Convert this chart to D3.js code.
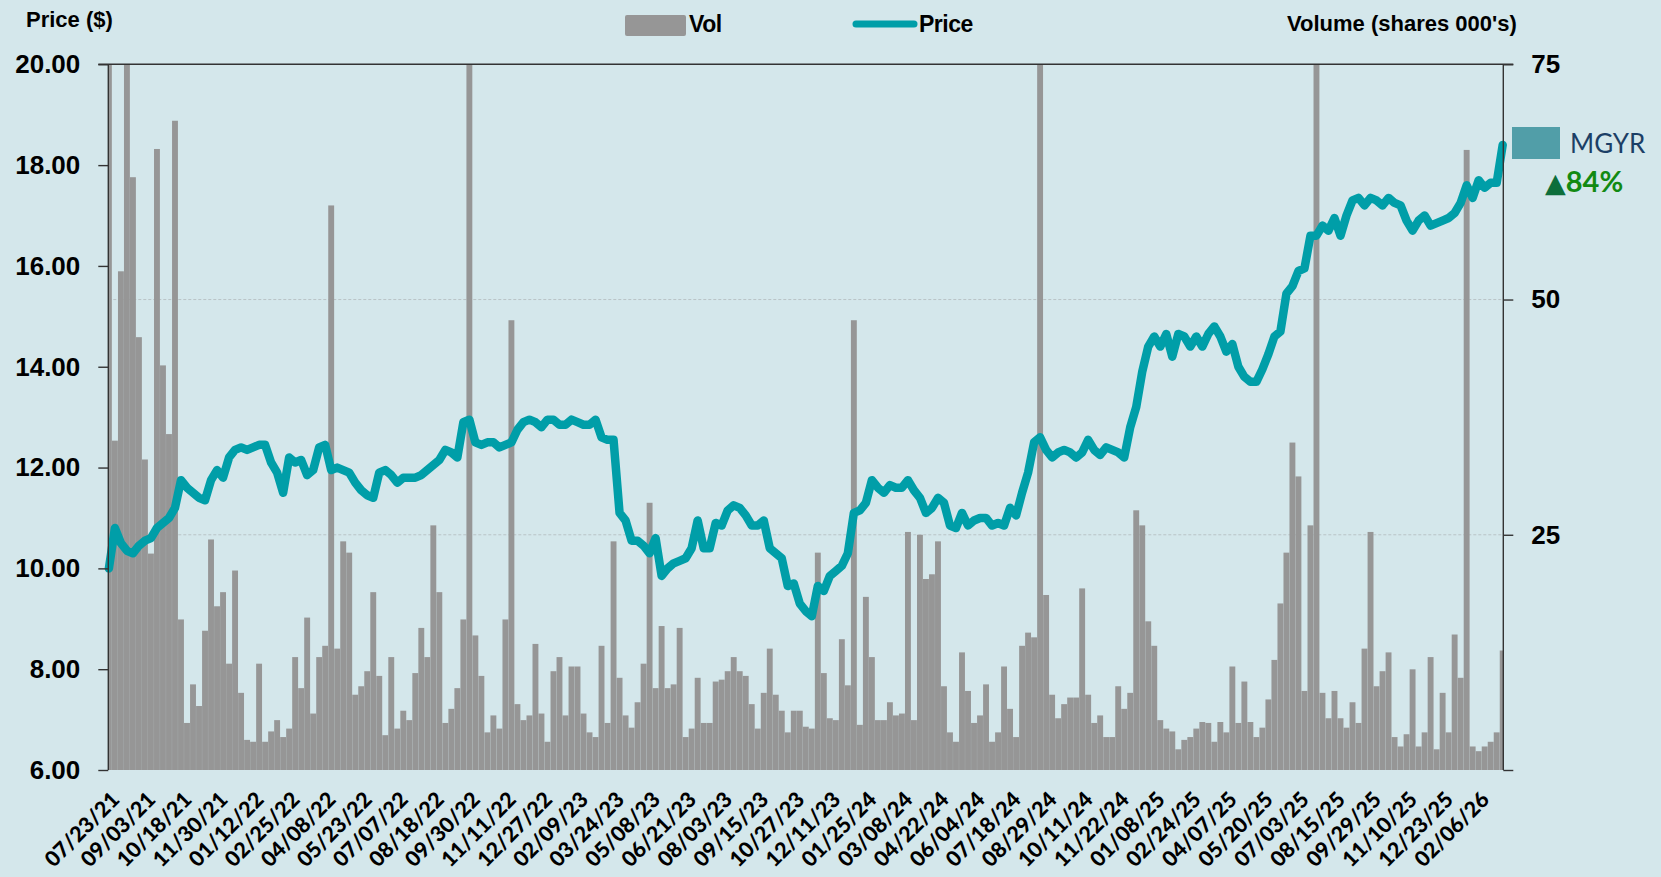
<!DOCTYPE html>
<html>
<head>
<meta charset="utf-8">
<script src="https://cdn.jsdelivr.net/npm/d3@7"></script>
<style>
  html, body { margin: 0; padding: 0; background: #d4e7eb; }
  svg { display: block; }
  .ax text { font-family: "Liberation Sans", Arial, sans-serif; font-weight: bold; font-size: 26px; fill: #000; }
  .ax path, .ax line { stroke: #333; stroke-width: 1.4; }
</style>
</head>
<body>
<svg id="chart" width="1661" height="877"></svg>
<script>
// ---------- data ----------
const dateLabels = ["07/23/21","09/03/21","10/18/21","11/30/21","01/12/22","02/25/22","04/08/22","05/23/22","07/07/22","08/18/22","09/30/22","11/11/22","12/27/22","02/09/23","03/24/23","05/08/23","06/21/23","08/03/23","09/15/23","10/27/23","12/11/23","01/25/24","03/08/24","04/22/24","06/04/24","07/18/24","08/29/24","10/11/24","11/22/24","01/08/25","02/24/25","04/07/25","05/20/25","07/03/25","08/15/25","09/29/25","11/10/25","12/23/25","02/06/26"];
const labelEveryDays = 30;     // trading days between date labels
const sampleEveryDays = 5;     // trading days between samples
const totalDays = 1161;

const price = [10.0,10.8,10.5,10.35,10.3,10.45,10.55,10.6,10.8,10.9,
11.0,11.2,11.75,11.6,11.5,11.4,11.35,11.75,11.95,11.8,
12.2,12.35,12.4,12.35,12.4,12.45,12.45,12.1,11.9,11.5,
12.2,12.1,12.15,11.85,11.95,12.4,12.45,11.95,12.0,11.95,
11.9,11.7,11.55,11.45,11.4,11.9,11.95,11.85,11.7,11.8,
11.8,11.8,11.85,11.95,12.05,12.15,12.35,12.3,12.2,12.9,
12.95,12.5,12.45,12.5,12.5,12.4,12.45,12.5,12.75,12.9,
12.95,12.9,12.8,12.95,12.95,12.85,12.85,12.95,12.9,12.85,
12.85,12.95,12.6,12.55,12.55,11.1,10.95,10.55,10.55,10.45,
10.3,10.6,9.85,10.0,10.1,10.15,10.2,10.4,10.95,10.4,
10.4,10.9,10.85,11.15,11.25,11.2,11.05,10.85,10.85,10.95,
10.4,10.3,10.2,9.65,9.7,9.3,9.15,9.05,9.65,9.55,
9.85,9.95,10.05,10.3,11.1,11.15,11.3,11.75,11.6,11.5,
11.65,11.6,11.6,11.75,11.55,11.4,11.1,11.2,11.4,11.3,
10.85,10.8,11.1,10.85,10.95,11.0,11.0,10.85,10.9,10.85,
11.2,11.05,11.5,11.9,12.5,12.6,12.35,12.2,12.3,12.35,
12.3,12.2,12.3,12.55,12.35,12.25,12.4,12.35,12.3,12.2,
12.8,13.2,13.9,14.4,14.6,14.4,14.65,14.2,14.65,14.6,
14.4,14.6,14.4,14.65,14.8,14.6,14.3,14.45,14.0,13.8,
13.7,13.7,13.95,14.25,14.6,14.7,15.45,15.6,15.9,15.95,
16.6,16.6,16.8,16.7,16.95,16.6,17.0,17.3,17.35,17.2,
17.35,17.3,17.2,17.35,17.25,17.2,16.9,16.7,16.9,17.0,
16.8,16.85,16.9,16.95,17.05,17.25,17.6,17.35,17.7,17.55,
17.65,17.65,18.4];

const volume = [80,35,53,80,63,46,33,23,66,43,
35.7,69,16,5,9.1,6.8,14.8,24.5,17.4,18.9,
11.3,21.2,8.2,3.2,3,11.3,3,4.1,5.3,3.5,
4.4,12,8.7,16.2,6,12,13.2,60,12.9,24.3,
23.1,8,8.9,10.5,18.9,10,3.7,12,4.4,6.3,
5.3,10.3,15.1,12,26,18.9,5,6.5,8.7,16,
80,14.3,10,4,5.8,4.4,16,47.8,7,5.3,
5.8,13.4,6,3,10.5,12,5.8,11,11,6,
4,3.5,13.2,5,24.3,9.8,5.8,4.5,7.2,11.3,
28.4,8.7,15.3,8.7,9.1,15.1,3.5,4.4,9.8,5,
5,9.4,9.6,10.5,12,10.5,10,7,4.4,8.2,
12.9,8,6.3,4,6.3,6.3,4.6,4.4,23.1,10.3,
5.5,5.3,13.9,9,47.8,4.8,18.4,12,5.3,5.3,
7.2,5.8,6,25.3,5.3,25,20.3,20.8,24.3,8.9,
4,3,12.5,8.4,5,5.8,9.1,3,4,11,
6.5,3.5,13.2,14.6,14.1,80,18.6,8,5.5,7,
7.7,7.7,19.3,8,5,5.8,3.5,3.5,8.9,6.5,
8.2,27.6,26,15.8,13.2,5.3,4.4,4.1,2.2,3.2,
3.5,4.4,5.1,5,3,5.1,4,11,5,9.4,
5.1,3.5,4.5,7.5,11.7,17.7,23.1,34.8,31.2,8.4,
26,80,8.2,5.5,8.4,5.5,4.5,7.2,5,12.9,
25.3,8.9,10.5,12.5,3.5,2.5,3.8,10.7,2.5,4,
12,2.2,8.2,4,14.4,9.8,65.9,2.5,2,2.5,
3,4,12.7];

const priceTicks = [6,8,10,12,14,16,18,20];
const volTicks = [0,25,50,75];
const ticker = "MGYR";
const changeText = "84%";

// ---------- layout ----------
const L = 108.3, R = 1503.3, T = 64.3, B = 770;
const svg = d3.select("#chart");

const x = d3.scaleLinear().domain([-0.5, totalDays - 0.5]).range([L, R]);
const yP = d3.scaleLinear().domain([6, 20]).range([B, T]);
const yV = d3.scaleLinear().domain([0, 75]).range([B, T]);

svg.append("rect").attr("width", 1661).attr("height", 877).attr("fill", "#d4e7eb");

svg.append("defs").append("clipPath").attr("id", "plot")
  .append("rect").attr("x", L).attr("y", T).attr("width", R - L).attr("height", B - T + 2);

// gridlines at volume 25, 50
svg.append("g").selectAll("line").data([25, 50]).join("line")
  .attr("x1", L).attr("x2", R).attr("y1", d => yV(d)).attr("y2", d => yV(d))
  .attr("stroke", "#b9c3c6").attr("stroke-width", 1).attr("stroke-dasharray", "3,2");

// volume bars
const bw = (x(sampleEveryDays) - x(0)) * 0.98;
svg.append("g").attr("clip-path", "url(#plot)").selectAll("rect").data(volume).join("rect")
  .attr("x", (d, i) => x(i * sampleEveryDays) - bw / 2)
  .attr("y", d => yV(d))
  .attr("width", bw)
  .attr("height", d => B - yV(d))
  .attr("fill", "#969696");

// price line
const line = d3.line().x((d, i) => x(i * sampleEveryDays)).y(d => yP(d));
svg.append("path").datum(price).attr("d", line)
  .attr("fill", "none").attr("stroke", "#009ea8").attr("stroke-width", 8.5)
  .attr("stroke-linejoin", "round").attr("stroke-linecap", "round");

// axes
const axL = svg.append("g").attr("class", "ax").attr("transform", `translate(${L},0)`)
  .call(d3.axisLeft(yP).tickValues(priceTicks).tickFormat(d3.format(".2f")).tickSize(10).tickPadding(18));
axL.select(".domain").attr("d", `M0,${T}V${B}`);
const axR = svg.append("g").attr("class", "ax").attr("transform", `translate(${R},0)`)
  .call(d3.axisRight(yV).tickValues(volTicks).tickFormat(d => d === 0 ? "" : d).tickSize(10).tickPadding(18));
axR.select(".domain").attr("d", `M0,${T}V${B}`);
// top border
svg.append("line").attr("x1", L - 10).attr("x2", R + 10).attr("y1", T).attr("y2", T)
  .attr("stroke", "#333").attr("stroke-width", 1.4);

// x labels
svg.append("g").selectAll("text").data(dateLabels).join("text")
  .attr("transform", (d, k) => `translate(${x(k * labelEveryDays) + 12},801) rotate(-45)`)
  .attr("text-anchor", "end")
  .style("font-family", "Lato, 'Liberation Sans', sans-serif").style("font-weight", "900")
  .style("font-size", "21.5px").attr("fill", "#000")
  .text(d => d);

// titles
const bold = "font-family:'Liberation Sans',Arial,sans-serif;font-weight:bold;font-size:22px";
svg.append("text").attr("x", 26).attr("y", 27).attr("style", bold).text("Price ($)");
svg.append("text").attr("x", 1287).attr("y", 31).attr("style", bold).text("Volume (shares 000's)");

// legend
svg.append("rect").attr("x", 625).attr("y", 15).attr("width", 61).attr("height", 21).attr("rx", 2).attr("fill", "#969696");
svg.append("text").attr("x", 689).attr("y", 32).attr("style", bold + ";font-size:23px").attr("letter-spacing", "-0.5").text("Vol");
svg.append("line").attr("x1", 856).attr("x2", 914).attr("y1", 24).attr("y2", 24)
  .attr("stroke", "#009ea8").attr("stroke-width", 7).attr("stroke-linecap", "round");
svg.append("text").attr("x", 919).attr("y", 32).attr("style", bold + ";font-size:23px").attr("letter-spacing", "-0.5").text("Price");

// ticker box
svg.append("rect").attr("x", 1512).attr("y", 127).attr("width", 48).attr("height", 32).attr("fill", "#519ea8");
svg.append("text").attr("x", 1570).attr("y", 153).attr("fill", "#1c3f66")
  .style("font-family", "Lato, sans-serif").style("font-size", "26px").text(ticker);
const ch = svg.append("text").attr("x", 1545).attr("y", 192)
  .style("font-family", "Lato, sans-serif").style("font-weight", "bold").style("font-size", "29px");
ch.append("tspan").attr("fill", "#0d6e3b").style("font-family", "'DejaVu Sans', sans-serif").style("font-size", "27px").text("▲");
ch.append("tspan").attr("fill", "#128a12").text(changeText);
</script>
</body>
</html>
